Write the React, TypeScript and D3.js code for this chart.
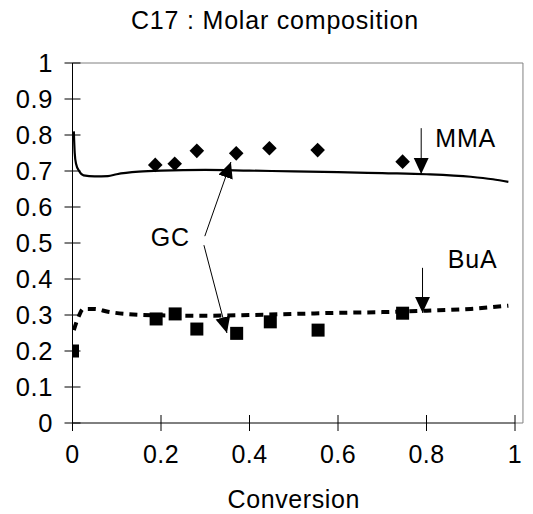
import React from "react";
import * as d3 from "d3";

const title = "C17 : Molar composition";
const xLabel = "Conversion";
const xTicks = [0, 0.2, 0.4, 0.6, 0.8, 1];
const xTickLabels = ["0", "0.2", "0.4", "0.6", "0.8", "1"];
const yTicks = [0, 0.1, 0.2, 0.3, 0.4, 0.5, 0.6, 0.7, 0.8, 0.9, 1];
const yTickLabels = ["0", "0.1", "0.2", "0.3", "0.4", "0.5", "0.6", "0.7", "0.8", "0.9", "1"];

// Model curves
const mmaConv = [0.003, 0.005, 0.008, 0.015, 0.025, 0.05, 0.08, 0.1, 0.15, 0.2, 0.3, 0.4, 0.5, 0.6, 0.7, 0.8, 0.9, 0.95, 0.985];
const mmaCalc = [0.81, 0.75, 0.72, 0.70, 0.688, 0.685, 0.686, 0.691, 0.698, 0.701, 0.703, 0.701, 0.699, 0.697, 0.694, 0.691, 0.684, 0.677, 0.670];
const buaConv = [0.003, 0.012, 0.025, 0.05, 0.08, 0.12, 0.2, 0.3, 0.4, 0.5, 0.6, 0.7, 0.8, 0.9, 0.985];
const buaCalc = [0.258, 0.29, 0.317, 0.317, 0.309, 0.303, 0.299, 0.298, 0.300, 0.303, 0.306, 0.308, 0.312, 0.317, 0.326];

// GC measurements
const gcMmaConv = [0.187, 0.231, 0.281, 0.370, 0.445, 0.554, 0.746];
const gcMma = [0.717, 0.720, 0.756, 0.749, 0.763, 0.758, 0.726];
const gcBuaConv = [0.0, 0.189, 0.232, 0.281, 0.371, 0.447, 0.555, 0.746];
const gcBua = [0.2, 0.289, 0.303, 0.261, 0.249, 0.281, 0.258, 0.305];

// Annotations (data coordinates)
const mmaArrow = { x: 0.788, y0: 0.819, y1: 0.692, label: "MMA", lx: 0.82, ly: 0.767 };
const buaArrow = { x: 0.791, y0: 0.431, y1: 0.306, label: "BuA", lx: 0.848, ly: 0.43 };
const gcArrows = [
  { x0: 0.299, y0: 0.519, x1: 0.358, y1: 0.725 },
  { x0: 0.297, y0: 0.494, x1: 0.349, y1: 0.25 },
];
const gcLabel = { text: "GC", x: 0.177, y: 0.5 };

const W = 533;
const H = 514;
const FONT = "'Liberation Sans', Arial, sans-serif";

export default function App() {
  const x = d3.scaleLinear().domain([0, 1]).range([72.5, 515]);
  const y = d3.scaleLinear().domain([0, 1]).range([423, 63]);
  const xRight = x(1.018);

  const line = d3
    .line<[number, number]>()
    .x((d) => x(d[0]))
    .y((d) => y(d[1]))
    .curve(d3.curveMonotoneX);

  const mmaPath = line(mmaConv.map((c, i) => [c, mmaCalc[i]]) as [number, number][]) || "";
  const buaPath = line(buaConv.map((c, i) => [c, buaCalc[i]]) as [number, number][]) || "";

  const ds = 7.3;
  const sq = 6.5;

  return (
    <svg
      width={W}
      height={H}
      style={{ position: "absolute", left: 0, top: 0, display: "block", background: "#fff" }}
      fontFamily={FONT}
    >
      <defs>
        <marker id="ah" markerUnits="userSpaceOnUse" markerWidth={17} markerHeight={16} refX={16} refY={7.5} orient="auto">
          <path d="M0,0 L16,7.5 L0,15 Z" fill="#000" />
        </marker>
        <clipPath id="plot">
          <rect x={72} y={62} width={xRight - 72 + 1} height={423 - 62 + 1} />
        </clipPath>
      </defs>
      <rect x={0} y={0} width={W} height={H} fill="#fff" />

      <text x={275} y={29} textAnchor="middle" fontSize={25} letterSpacing={0.8} fill="#000">
        {title}
      </text>

      {/* plot frame */}
      <line x1={x(0)} x2={xRight} y1={y(1)} y2={y(1)} stroke="#808080" strokeWidth={1} />
      <line x1={xRight} x2={xRight} y1={y(1)} y2={y(0)} stroke="#808080" strokeWidth={1} />
      <line x1={x(1)} x2={xRight} y1={y(0)} y2={y(0)} stroke="#808080" strokeWidth={1} />

      {/* axes */}
      <line x1={x(0)} x2={x(0)} y1={y(1)} y2={y(0)} stroke="#000" strokeWidth={1} />
      <line x1={x(0)} x2={x(1)} y1={y(0)} y2={y(0)} stroke="#000" strokeWidth={1} />
      {yTicks.map((t, i) => (
        <g key={"y" + i}>
          <line x1={x(0) - 8} x2={x(0) + 8} y1={y(t)} y2={y(t)} stroke="#000" strokeWidth={1} />
          <text x={53} y={y(t) + 9} textAnchor="end" fontSize={25.5} letterSpacing={0.6} fill="#000">
            {yTickLabels[i]}
          </text>
        </g>
      ))}
      {xTicks.map((t, i) => (
        <g key={"x" + i}>
          <line x1={x(t)} x2={x(t)} y1={y(0) - 8} y2={y(0) + 8} stroke="#000" strokeWidth={1} />
          <text x={x(t)} y={463} textAnchor="middle" fontSize={25} letterSpacing={0.4} fill="#000">
            {xTickLabels[i]}
          </text>
        </g>
      ))}
      <text x={x(0.5)} y={508} textAnchor="middle" fontSize={25} letterSpacing={0.6} fill="#000">
        {xLabel}
      </text>

      <g clipPath="url(#plot)">
        <path d={mmaPath} fill="none" stroke="#000" strokeWidth={2.2} />
        <path d={buaPath} fill="none" stroke="#000" strokeWidth={4} strokeDasharray="8,6" />
        {gcMmaConv.map((c, i) => (
          <path
            key={"d" + i}
            d={`M${x(c)},${y(gcMma[i]) - ds}L${x(c) + ds},${y(gcMma[i])}L${x(c)},${y(gcMma[i]) + ds}L${x(c) - ds},${y(gcMma[i])}Z`}
            fill="#000"
          />
        ))}
        {gcBuaConv.map((c, i) => (
          <rect key={"s" + i} x={x(c) - sq} y={y(gcBua[i]) - sq} width={sq * 2} height={sq * 2} fill="#000" />
        ))}
      </g>

      {/* annotations */}
      <line x1={x(mmaArrow.x)} x2={x(mmaArrow.x)} y1={y(mmaArrow.y0)} y2={y(mmaArrow.y1)} stroke="#000" strokeWidth={1} markerEnd="url(#ah)" />
      <text x={x(mmaArrow.lx)} y={y(mmaArrow.ly)} fontSize={25} letterSpacing={0.8} fill="#000">
        {mmaArrow.label}
      </text>
      <line x1={x(buaArrow.x)} x2={x(buaArrow.x)} y1={y(buaArrow.y0)} y2={y(buaArrow.y1)} stroke="#000" strokeWidth={1} markerEnd="url(#ah)" />
      <text x={x(buaArrow.lx)} y={y(buaArrow.ly)} fontSize={25} letterSpacing={0.8} fill="#000">
        {buaArrow.label}
      </text>
      {gcArrows.map((a, i) => (
        <line key={"g" + i} x1={x(a.x0)} y1={y(a.y0)} x2={x(a.x1)} y2={y(a.y1)} stroke="#000" strokeWidth={1} markerEnd="url(#ah)" />
      ))}
      <text x={x(gcLabel.x)} y={y(gcLabel.y) + 3} fontSize={25} letterSpacing={0.8} fill="#000">
        {gcLabel.text}
      </text>
    </svg>
  );
}
